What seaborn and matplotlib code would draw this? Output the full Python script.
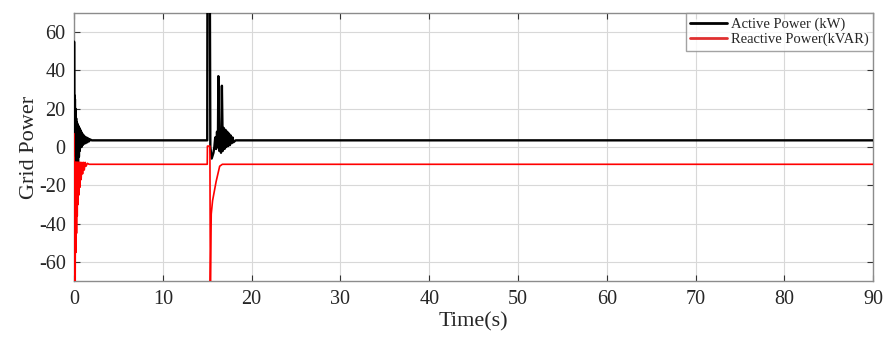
import pandas as pd
import matplotlib.pyplot as plt
import seaborn as sns

# time in s, active power in kW
t_active = [0, 0.005, 0.02, 0.04, 0.07, 0.1, 0.13, 0.16, 0.2, 0.24, 0.28, 0.32, 0.36, 0.4,
            0.45, 0.5, 0.55, 0.6, 0.65, 0.7, 0.75, 0.8, 0.85, 0.9, 0.95, 1.0, 1.05, 1.1,
            1.15, 1.2, 1.3, 1.4, 1.5, 1.6, 1.7, 1.8, 2.0,
            15.0, 15.02, 15.3, 15.35, 15.5, 15.7, 15.8, 15.9, 16.0, 16.1, 16.2, 16.25,
            16.35, 16.45, 16.55, 16.65, 16.75, 16.85, 16.95, 17.05, 17.15, 17.25, 17.35,
            17.45, 17.55, 17.65, 17.75, 17.85, 17.95, 18.2, 90]
p_active = [0, 55, 10, 27, -2, 25, 0, 20, -5, 15, -8, 13, -9, 12,
            -8, 11, -5, 10, -2, 9, 0, 8, 0, 7, 1, 6.5, 1.5, 6,
            2, 5.5, 2, 5, 2.5, 4.5, 3, 4, 3.5,
            3.5, 75, 75, 0, -6, -3, 0, 5, -1, 8, 0, 37,
            -2, 6, -3, 32, -2, 10, -1, 9, 0, 8, 0.5,
            7, 1, 6, 2, 5, 2.5, 3.5, 3.5]

# reactive power in kVAR
t_reactive = [0, 0.01, 0.04, 0.07, 0.1, 0.13, 0.17, 0.2, 0.24, 0.28, 0.32, 0.36, 0.4,
              0.45, 0.5, 0.55, 0.6, 0.66, 0.72, 0.8, 0.88, 0.96, 1.05, 1.15, 1.25,
              1.35, 1.5, 1.7,
              15.0, 15.02, 15.3, 15.35, 15.45, 15.6, 16.0, 16.4, 16.7, 90]
q_reactive = [7, -72, -8, -72, -8, -72, -8, -55, -8, -45, -8, -36, -8,
              -30, -8, -25, -8, -21, -8, -17, -8, -14, -8, -12, -8,
              -10, -8.5, -9,
              -9, 0.5, 0.5, -75, -35, -28, -18, -10, -9, -9]

labels = ["Active Power (kW)", "Reactive Power(kVAR)"]
x_ticks = [0, 10, 20, 30, 40, 50, 60, 70, 80, 90]
y_ticks = [-60, -40, -20, 0, 20, 40, 60]

df = pd.concat([
    pd.DataFrame({"Time": t_active, "Power": p_active, "Signal": labels[0]}),
    pd.DataFrame({"Time": t_reactive, "Power": q_reactive, "Signal": labels[1]}),
])

sns.set_style("whitegrid")
plt.rcParams["font.family"] = ["Liberation Serif", "DejaVu Serif"]
plt.rcParams["axes.unicode_minus"] = False

fig = plt.figure(figsize=(8.92, 3.40), dpi=100)
ax = fig.add_axes([0.083, 0.173, 0.896, 0.789])

sns.lineplot(data=df, x="Time", y="Power", hue="Signal",
             palette={labels[0]: "black", labels[1]: "#ff0000"},
             estimator=None, sort=False, ax=ax, legend=False)
for line, lw in zip(ax.lines, [1.7, 1.2]):
    line.set_linewidth(lw)
    line.set_zorder(3)

ax.set_xlim(0, 90)
ax.set_ylim(-70, 70)
ax.set_xticks(x_ticks)
ax.set_yticks(y_ticks)
ax.grid(True, color="#d8d8d8", linewidth=0.8)
ax.tick_params(axis="both", labelsize=14.5, colors="#333333", direction="in",
               length=4, top=True, right=True, bottom=True, left=True, pad=6)
ax.tick_params(labelcolor="#262626")
for s in ax.spines.values():
    s.set_color("#8c8c8c")
    s.set_linewidth(1.0)

ax.set_xlabel("Time(s)", fontsize=16, color="#262626", labelpad=3)
ax.set_ylabel("Grid Power", fontsize=16, color="#262626", labelpad=0)

handles = [plt.Line2D([], [], color="black", lw=2),
           plt.Line2D([], [], color="#e03030", lw=2)]
leg = ax.legend(handles, labels, loc="upper right", fontsize=10.5,
                frameon=True, fancybox=False, borderaxespad=0,
                handlelength=2.5, handletextpad=0.3, labelspacing=0.15,
                borderpad=0.3)
leg.set_zorder(5)
leg.get_frame().set_edgecolor("#8c8c8c")
leg.get_frame().set_linewidth(1.0)

fig.savefig("out.png", dpi=100)
